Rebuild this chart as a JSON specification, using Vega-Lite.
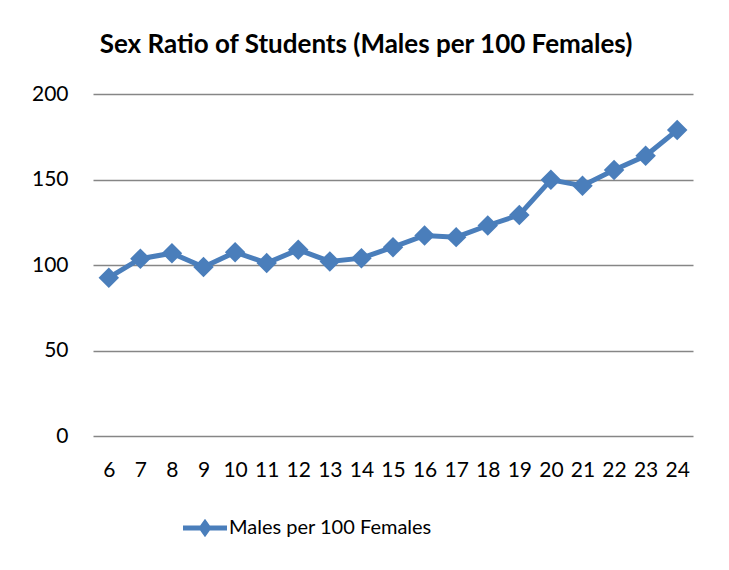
{
  "$schema": "https://vega.github.io/schema/vega-lite/v6.json",
  "width": 600,
  "height": 342,
  "autosize": {"type": "none"},
  "padding": {"left": 93, "top": 94, "right": 36, "bottom": 134},
  "background": "white",
  "title": {
    "text": "Sex Ratio of Students (Males per 100 Females)",
    "font": "Lato",
    "fontSize": 26,
    "fontWeight": "bold",
    "color": "black",
    "anchor": "middle",
    "dx": -27,
    "offset": 25
  },
  "data": {
    "values": [
      {"age": "6", "ratio": 92.6, "series": "Males per 100 Females"},
      {"age": "7", "ratio": 103.7, "series": "Males per 100 Females"},
      {"age": "8", "ratio": 106.9, "series": "Males per 100 Females"},
      {"age": "9", "ratio": 98.8, "series": "Males per 100 Females"},
      {"age": "10", "ratio": 107.5, "series": "Males per 100 Females"},
      {"age": "11", "ratio": 101.1, "series": "Males per 100 Females"},
      {"age": "12", "ratio": 108.9, "series": "Males per 100 Females"},
      {"age": "13", "ratio": 102.1, "series": "Males per 100 Females"},
      {"age": "14", "ratio": 104.0, "series": "Males per 100 Females"},
      {"age": "15", "ratio": 110.4, "series": "Males per 100 Females"},
      {"age": "16", "ratio": 117.3, "series": "Males per 100 Females"},
      {"age": "17", "ratio": 116.3, "series": "Males per 100 Females"},
      {"age": "18", "ratio": 123.1, "series": "Males per 100 Females"},
      {"age": "19", "ratio": 129.3, "series": "Males per 100 Females"},
      {"age": "20", "ratio": 149.8, "series": "Males per 100 Females"},
      {"age": "21", "ratio": 146.4, "series": "Males per 100 Females"},
      {"age": "22", "ratio": 155.6, "series": "Males per 100 Females"},
      {"age": "23", "ratio": 163.9, "series": "Males per 100 Females"},
      {"age": "24", "ratio": 178.9, "series": "Males per 100 Females"}
    ]
  },
  "encoding": {
    "x": {
      "field": "age",
      "type": "ordinal",
      "sort": null,
      "scale": {"type": "point", "padding": 0.5},
      "axis": {
        "title": null,
        "labelAngle": 0,
        "labelFont": "Lato",
        "labelFontSize": 21,
        "labelColor": "black",
        "labelPadding": 23,
        "domain": false,
        "ticks": false,
        "grid": false
      }
    },
    "y": {
      "field": "ratio",
      "type": "quantitative",
      "scale": {"domain": [0, 200], "nice": false},
      "axis": {
        "title": null,
        "values": [0, 50, 100, 150, 200],
        "labelFont": "Lato",
        "labelFontSize": 21,
        "labelColor": "black",
        "labelPadding": 25,
        "domain": false,
        "ticks": false,
        "grid": true,
        "gridColor": "#868686",
        "gridWidth": 1.5
      }
    },
    "color": {
      "field": "series",
      "type": "nominal",
      "scale": {"range": ["#4A7EBB"]},
      "legend": {
        "title": null,
        "orient": "none",
        "legendX": 90,
        "legendY": 412,
        "symbolType": "M-1,-0.11L1,-0.11L1,0.11L-1,0.11Z M0,-0.42L0.3,0L0,0.42L-0.3,0Z",
        "symbolSize": 1936,
        "symbolFillColor": "#4A7EBB",
        "symbolStrokeWidth": 0,
        "symbolOpacity": 1,
        "labelFont": "Lato",
        "labelFontSize": 20,
        "labelColor": "black",
        "labelOffset": 2,
        "labelLimit": 400
      }
    }
  },
  "layer": [
    {"mark": {"type": "line", "strokeWidth": 5}},
    {"mark": {"type": "point", "shape": "diamond", "filled": true, "size": 420, "opacity": 1}}
  ],
  "config": {
    "view": {"stroke": null}
  }
}
